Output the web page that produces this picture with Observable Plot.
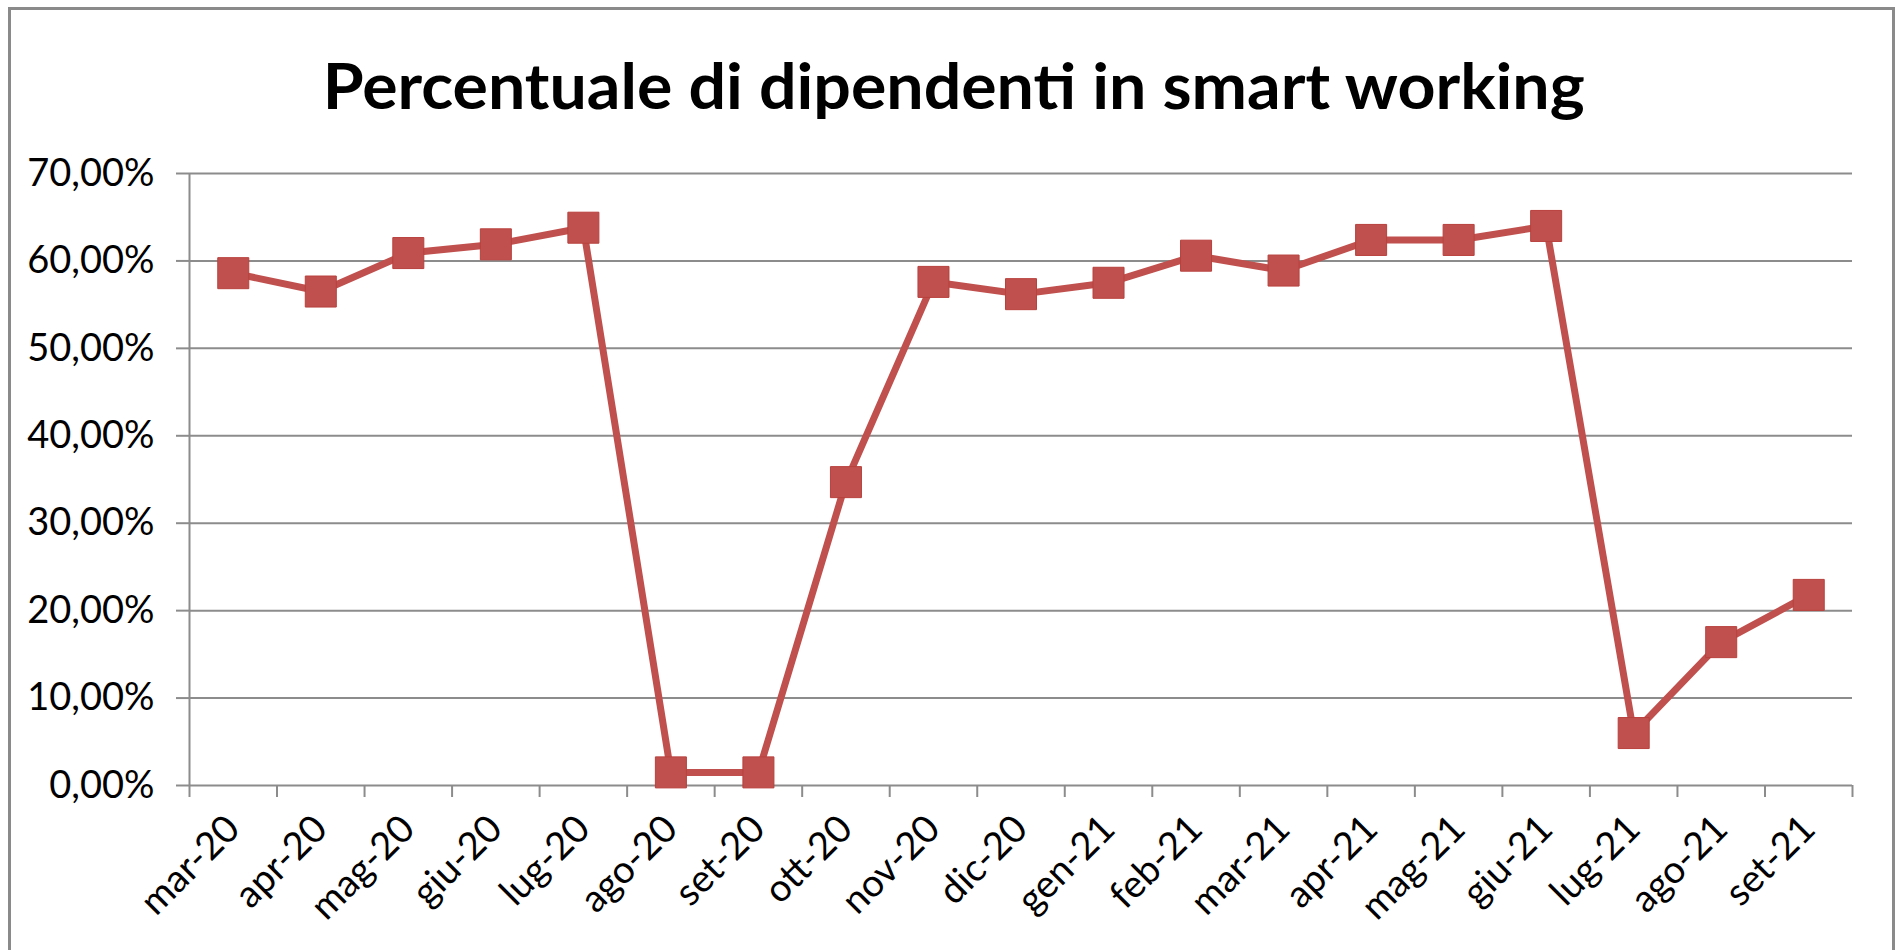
<!DOCTYPE html>
<html>
<head>
<meta charset="utf-8">
<script src="https://cdn.jsdelivr.net/npm/d3@7"></script>
<script src="https://cdn.jsdelivr.net/npm/@observablehq/plot@0.6"></script>
<style>
  html, body { margin: 0; padding: 0; background: #fff; overflow: hidden; }
  body { width: 1895px; height: 950px; position: relative; }
  #frame { position: absolute; left: 8px; top: 7px; width: 1881px; height: 1000px; border: 3px solid #8a8a8a; box-sizing: content-box; }
  #title { position: absolute; left: 0; top: 47px; width: 1908px; text-align: center; font-family: Lato, sans-serif; font-weight: bold; font-size: 64px; line-height: 1.2; color: #000; white-space: nowrap; }
  #title span { display: inline-block; transform-origin: center; }
  #chart { position: absolute; left: 0; top: 130px; }
</style>
</head>
<body>
<div id="frame"></div>
<div id="title"><span>Percentuale di dipendenti in smart working</span></div>
<div id="chart"></div>
<script>
const months = ["mar-20","apr-20","mag-20","giu-20","lug-20","ago-20","set-20","ott-20","nov-20","dic-20","gen-21","feb-21","mar-21","apr-21","mag-21","giu-21","lug-21","ago-21","set-21"];
const values = [0.586, 0.565, 0.609, 0.619, 0.638, 0.015, 0.015, 0.347, 0.576, 0.562, 0.575, 0.606, 0.589, 0.624, 0.624, 0.640, 0.060, 0.164, 0.218];
const yTicks = [0, 0.1, 0.2, 0.3, 0.4, 0.5, 0.6, 0.7];

const data = months.map((m, i) => ({i, month: m, value: values[i]}));
const indices = d3.range(months.length);
const boundaries = d3.range(-0.5, months.length, 1);
const red = "#C0504D";
const grid = "#8c8c8c";
const fmt = d => (d * 100).toFixed(2).replace(".", ",") + "%";

// fit title width
const tspan = document.querySelector("#title span");
const targetW = 1262;
const w = tspan.getBoundingClientRect().width;
if (w > 0) tspan.style.transform = `scaleX(${targetW / w})`;

const chart = Plot.plot({
  width: 1895,
  height: 820,
  marginTop: 43,
  marginBottom: 165,
  marginLeft: 189,
  marginRight: 43,
  style: {fontFamily: "Lato, sans-serif", fontSize: "38px", color: "#000", background: "transparent"},
  x: {type: "linear", domain: [-0.5, months.length - 0.5]},
  y: {domain: [0, 0.7]},
  marks: [
    Plot.ruleY(yTicks, {stroke: grid, strokeWidth: 2}),
    Plot.ruleX([-0.5], {stroke: grid, strokeWidth: 2}),
    Plot.axisY({ticks: yTicks, tickSize: 13, tickPadding: 22, tickFormat: fmt, stroke: grid, strokeWidth: 2, strokeOpacity: 1, label: null}),
    Plot.axisX({ticks: boundaries, tickSize: 12, tickFormat: () => "", stroke: grid, strokeWidth: 2, strokeOpacity: 1, label: null}),
    Plot.axisX({ticks: indices, tickSize: 0, tickPadding: 37, tickRotate: -45, tickFormat: i => months[i], label: null}),
    Plot.lineY(data, {x: "i", y: "value", stroke: red, strokeWidth: 7}),
    Plot.dot(data, {x: "i", y: "value", symbol: "square", r: 17.5, fill: red, stroke: "#b8403d", strokeWidth: 1})
  ]
});
document.getElementById("chart").appendChild(chart);
</script>
</body>
</html>
